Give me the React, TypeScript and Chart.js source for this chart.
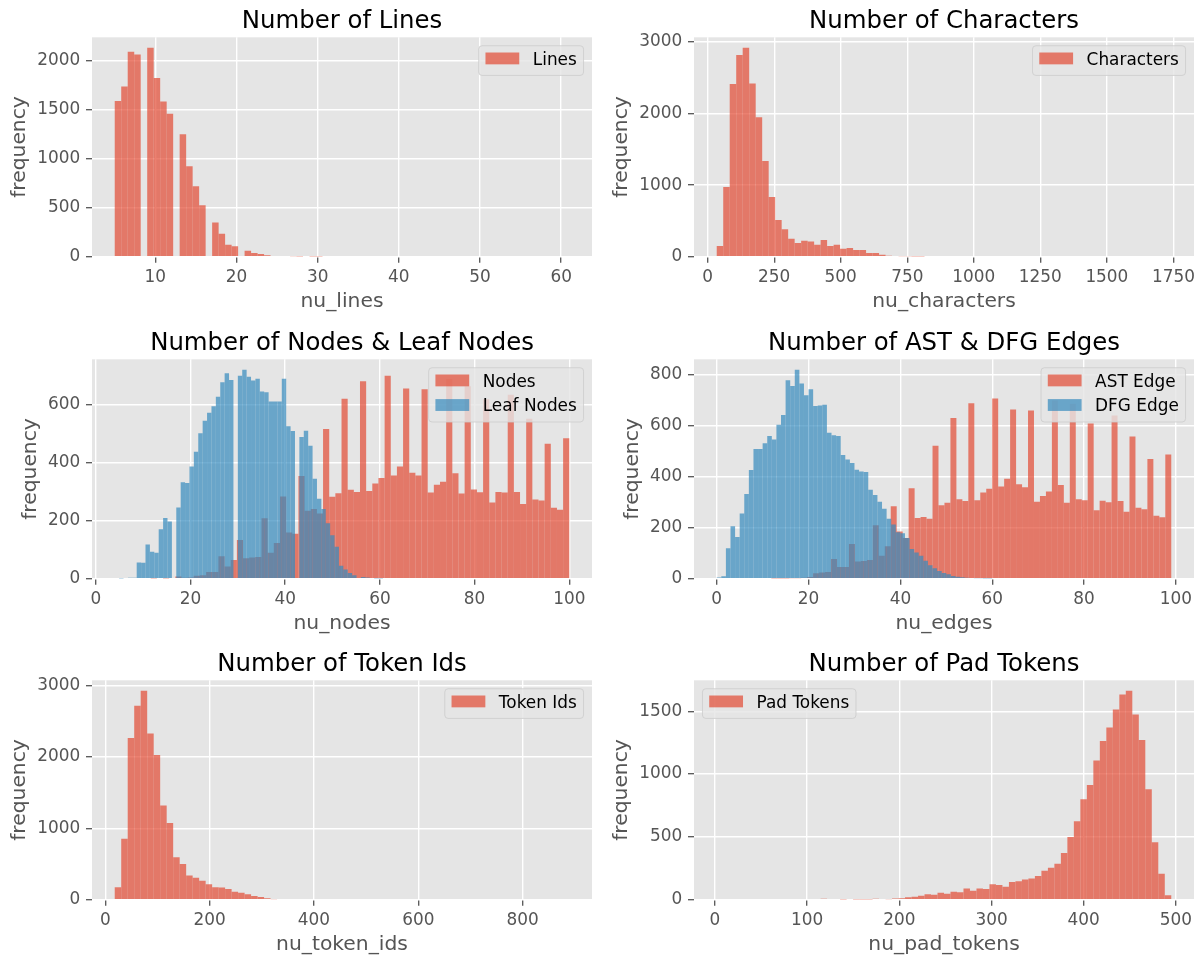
import React, { useEffect, useRef } from 'react';
import { Chart, registerables } from 'chart.js';

Chart.register(...registerables);

const FONT = "'DejaVu Sans', 'Liberation Sans', sans-serif";
Chart.defaults.font.family = FONT;

const RED = 'rgba(226, 74, 51, 0.7)';
const BLUE = 'rgba(52, 138, 189, 0.7)';
const PLOT_BG = '#E5E5E5';
const TEXT_GREY = '#555555';

// ---------------- data (each histogram: 70 equal-width bins) ----------------
const LINES_BIN_START = 5;
const LINES_BIN_WIDTH = 0.8;
const linesCounts = [
  1590, 1740, 2095, 2065, 0, 2135, 1825, 1585, 1460, 0,
  1250, 925, 720, 525, 0, 350, 235, 122, 108, 0,
  60, 38, 27, 14, 0, 8, 6, 4, 3, 0,
  2, 2, 0, 0, 0, 0, 0, 0, 0, 0,
  0, 0, 0, 0, 0, 0, 0, 0, 0, 0,
  0, 0, 0, 0, 0, 0, 0, 0, 0, 0,
  0, 0, 0, 0, 0, 0, 0, 0, 0, 0,
];

const CHARS_BIN_START = 34;
const CHARS_BIN_WIDTH = 24.4;
const charactersCounts = [
  149, 974, 2413, 2818, 2920, 2422, 1947, 1337, 834, 512,
  382, 252, 191, 224, 214, 168, 233, 149, 168, 112,
  121, 93, 93, 51, 51, 28, 12, 9, 7, 5,
  4, 3, 0, 0, 0, 0, 0, 0, 0, 0,
  0, 0, 0, 0, 0, 0, 0, 0, 0, 0,
  0, 0, 0, 0, 0, 0, 0, 0, 0, 0,
  0, 0, 0, 0, 0, 0, 0, 0, 0, 0,
];

const NODES_BIN_START = 9;
const NODES_BIN_WIDTH = 1.3;
const nodesCounts = [
  0, 0, 1, 2, 1, 2, 8, 3, 4, 10,
  12, 23, 23, 78, 42, 65, 134, 71, 73, 75,
  209, 90, 123, 284, 160, 155, 355, 235, 241, 225,
  517, 283, 295, 622, 307, 300, 682, 303, 329, 348,
  701, 357, 388, 657, 366, 357, 655, 298, 325, 335,
  690, 364, 294, 665, 308, 299, 620, 263, 300, 298,
  636, 300, 258, 553, 274, 270, 466, 245, 238, 485,
];

const LEAF_BIN_START = 4;
const LEAF_BIN_WIDTH = 65 / 70;
const leafNodesCounts = [
  0, 1, 2, 3, 3, 56, 55, 118, 93, 90,
  171, 210, 198, 0, 246, 333, 331, 388, 439, 503,
  546, 573, 596, 629, 679, 710, 687, 0, 701, 722,
  698, 685, 691, 647, 644, 612, 612, 612, 691, 527,
  510, 0, 490, 511, 459, 345, 276, 241, 192, 150,
  110, 45, 32, 20, 12, 0, 6, 4, 2, 1,
  1, 0, 0, 0, 0, 0, 0, 0, 0, 0,
];

const AST_BIN_START = 8;
const AST_BIN_WIDTH = 1.3;
const astEdgeCounts = [
  0, 0, 0, 1, 1, 1, 2, 2, 4, 7,
  21, 24, 26, 77, 46, 46, 136, 67, 69, 73,
  209, 90, 127, 284, 185, 159, 354, 238, 242, 235,
  520, 288, 297, 629, 311, 304, 687, 307, 337, 352,
  705, 361, 391, 662, 370, 358, 658, 301, 324, 341,
  698, 367, 297, 685, 311, 307, 608, 268, 305, 299,
  639, 304, 262, 557, 278, 272, 469, 246, 241, 486,
];

const DFG_BIN_START = 0;
const DFG_BIN_WIDTH = 1;
const dfgEdgeCounts = [
  5, 10, 119, 205, 163, 255, 332, 426, 508, 508,
  530, 559, 545, 603, 641, 777, 754, 818, 764, 718,
  742, 676, 678, 681, 571, 562, 559, 484, 467, 453,
  427, 420, 418, 348, 328, 301, 274, 235, 212, 182,
  178, 159, 116, 103, 90, 70, 53, 41, 30, 22,
  17, 11, 8, 6, 4, 3, 2, 2, 1, 1,
  0, 0, 0, 0, 0, 0, 0, 0, 0, 0,
];

const TOKEN_BIN_START = 18;
const TOKEN_BIN_WIDTH = 12.45;
const tokenIdsCounts = [
  173, 853, 2269, 2719, 2930, 2330, 2030, 1322, 1074, 595,
  502, 338, 309, 267, 216, 173, 170, 150, 113, 98,
  75, 52, 38, 20, 5, 10, 0, 0, 0, 0,
  0, 0, 0, 0, 0, 0, 0, 0, 0, 0,
  0, 0, 0, 0, 0, 0, 0, 0, 0, 0,
  0, 0, 0, 0, 0, 0, 0, 0, 0, 0,
  0, 0, 0, 0, 0, 0, 0, 0, 0, 0,
];

const PAD_BIN_START = 2.1;
const PAD_BIN_WIDTH = 7.04;
const padTokensCounts = [
  0, 0, 0, 0, 0, 0, 0, 0, 0, 0,
  0, 0, 0, 0, 0, 0, 8, 6, 0, 2,
  0, 2, 2, 2, 7, 6, 3, 10, 12, 20,
  24, 32, 44, 40, 56, 48, 64, 59, 90, 72,
  90, 85, 122, 117, 104, 141, 146, 160, 168, 189,
  231, 255, 287, 372, 500, 625, 800, 912, 1107, 1263,
  1370, 1513, 1633, 1663, 1474, 1271, 880, 458, 207, 35,
];

// ---------------- panel definitions ----------------
type Hist = { label: string; color: string; start: number; width: number; counts: number[] };
type PanelSpec = {
  title: string;
  xLabel: string;
  xStep: number;
  yStep: number;
  legend: 'left' | 'right';
  hists: Hist[];
};

const PANELS: PanelSpec[] = [
  {
    title: 'Number of Lines', xLabel: 'nu_lines', xStep: 10, yStep: 500, legend: 'right',
    hists: [{ label: 'Lines', color: RED, start: LINES_BIN_START, width: LINES_BIN_WIDTH, counts: linesCounts }],
  },
  {
    title: 'Number of Characters', xLabel: 'nu_characters', xStep: 250, yStep: 1000, legend: 'right',
    hists: [{ label: 'Characters', color: RED, start: CHARS_BIN_START, width: CHARS_BIN_WIDTH, counts: charactersCounts }],
  },
  {
    title: 'Number of Nodes & Leaf Nodes', xLabel: 'nu_nodes', xStep: 20, yStep: 200, legend: 'right',
    hists: [
      { label: 'Nodes', color: RED, start: NODES_BIN_START, width: NODES_BIN_WIDTH, counts: nodesCounts },
      { label: 'Leaf Nodes', color: BLUE, start: LEAF_BIN_START, width: LEAF_BIN_WIDTH, counts: leafNodesCounts },
    ],
  },
  {
    title: 'Number of AST & DFG Edges', xLabel: 'nu_edges', xStep: 20, yStep: 200, legend: 'right',
    hists: [
      { label: 'AST Edge', color: RED, start: AST_BIN_START, width: AST_BIN_WIDTH, counts: astEdgeCounts },
      { label: 'DFG Edge', color: BLUE, start: DFG_BIN_START, width: DFG_BIN_WIDTH, counts: dfgEdgeCounts },
    ],
  },
  {
    title: 'Number of Token Ids', xLabel: 'nu_token_ids', xStep: 200, yStep: 1000, legend: 'right',
    hists: [{ label: 'Token Ids', color: RED, start: TOKEN_BIN_START, width: TOKEN_BIN_WIDTH, counts: tokenIdsCounts }],
  },
  {
    title: 'Number of Pad Tokens', xLabel: 'nu_pad_tokens', xStep: 100, yStep: 500, legend: 'left',
    hists: [{ label: 'Pad Tokens', color: RED, start: PAD_BIN_START, width: PAD_BIN_WIDTH, counts: padTokensCounts }],
  },
];

// ---------------- layout ----------------
const FIG_W = 1203;
const FIG_H = 958;
const COL_X = [0, 601];
const COL_W = [601, 602];
const Y_AXIS_W = [92, 93];
const PLOT_W = 500;
const ROW_Y = [0, 322, 643];
const ROW_H = [322, 321, 315];
const PLOT_TOP = 37.3;
const PLOT_BOTTOM = 256.7;

const TICK_FS = 16.9;
const LABEL_FS = 20.3;
const TITLE_FS = 24.4;
const LEGEND_FS = 16.9;
const TICK_LEN = 6;
const TICK_PAD_X = 4.5;
const TICK_PAD_Y = 5.8;
const X_TITLE_MID = 301.5;
const TITLE_PAD_TOP = 6.8;

// ---------------- plugins ----------------
const plotBgPlugin = {
  id: 'plotBg',
  beforeDraw(chart: any) {
    const { ctx, chartArea: a } = chart;
    if (!a) return;
    ctx.save();
    ctx.fillStyle = PLOT_BG;
    ctx.fillRect(a.left, a.top, a.right - a.left, a.bottom - a.top);
    ctx.restore();
  },
};

const centerTitlePlugin = {
  id: 'centerTitle',
  afterLayout(chart: any) {
    const tb = chart.titleBlock;
    const a = chart.chartArea;
    if (tb && a) {
      tb.left = a.left;
      tb.right = a.right;
      tb.width = a.right - a.left;
    }
  },
};

const insideLegendPlugin = {
  id: 'insideLegend',
  afterDatasetsDraw(chart: any, _args: any, opts: any) {
    if (!opts || !opts.items || !opts.items.length) return;
    const { ctx, chartArea: a } = chart;
    const fs = LEGEND_FS;
    const pad = 0.4 * fs;
    const handleW = 2 * fs;
    const handleH = 0.7 * fs;
    const textPad = 0.8 * fs;
    const rowH = 0.955 * fs;
    const rowGap = 0.5 * fs;
    const axPad = 0.5 * fs;
    ctx.save();
    ctx.font = `${fs}px ${FONT}`;
    const items = opts.items as { label: string; color: string }[];
    const textW = Math.max(...items.map((it) => ctx.measureText(it.label).width));
    const boxW = 2 * pad + handleW + textPad + textW;
    const boxH = 2 * pad + items.length * rowH + (items.length - 1) * rowGap;
    const x0 = opts.corner === 'left' ? a.left + axPad : a.right - axPad - boxW;
    const y0 = a.top + axPad;
    const r = 0.2 * fs;
    ctx.beginPath();
    ctx.moveTo(x0 + r, y0);
    ctx.lineTo(x0 + boxW - r, y0);
    ctx.arcTo(x0 + boxW, y0, x0 + boxW, y0 + r, r);
    ctx.lineTo(x0 + boxW, y0 + boxH - r);
    ctx.arcTo(x0 + boxW, y0 + boxH, x0 + boxW - r, y0 + boxH, r);
    ctx.lineTo(x0 + r, y0 + boxH);
    ctx.arcTo(x0, y0 + boxH, x0, y0 + boxH - r, r);
    ctx.lineTo(x0, y0 + r);
    ctx.arcTo(x0, y0, x0 + r, y0, r);
    ctx.closePath();
    ctx.fillStyle = 'rgba(229, 229, 229, 0.8)';
    ctx.fill();
    ctx.strokeStyle = 'rgba(204, 204, 204, 0.8)';
    ctx.lineWidth = 1;
    ctx.stroke();
    items.forEach((it, i) => {
      const rowTop = y0 + pad + i * (rowH + rowGap);
      ctx.fillStyle = it.color;
      ctx.fillRect(x0 + pad, rowTop, handleW, handleH);
      ctx.fillStyle = '#000000';
      ctx.textAlign = 'left';
      ctx.textBaseline = 'middle';
      ctx.fillText(it.label, x0 + pad + handleW + textPad, rowTop + 0.46 * fs);
    });
    ctx.restore();
  },
};

// ticks at exact multiples of the step inside the axis range
const stepTicks = (step: number) => (scale: any) => {
  const out: { value: number }[] = [];
  const first = Math.ceil(scale.min / step - 1e-9) * step;
  for (let v = first; v <= scale.max + 1e-9; v += step) {
    out.push({ value: Math.round(v * 1e6) / 1e6 });
  }
  scale.ticks = out;
};

// ---------------- chart config ----------------
function buildConfig(spec: PanelSpec, col: number, row: number) {
  const H = ROW_H[row];
  const W = COL_W[col];
  const yAxisW = Y_AXIS_W[col];

  const lo = Math.min(...spec.hists.map((h) => h.start));
  const hi = Math.max(...spec.hists.map((h) => h.start + h.width * h.counts.length));
  const margin = 0.05 * (hi - lo);
  const xMin = lo - margin;
  const xMax = hi + margin;
  const yMax = 1.05 * Math.max(...spec.hists.map((h) => Math.max(...h.counts)));

  const topTick = Math.floor(yMax / spec.yStep) * spec.yStep;
  const tickLabelW = String(topTick).length * 0.636 * TICK_FS;
  const labelLH = LABEL_FS * 1.2;
  const yTitleMid = yAxisW - TICK_LEN - TICK_PAD_Y - tickLabelW - 6.76 - 0.536 * LABEL_FS;
  const yTitlePadTop = Math.max(0, yTitleMid - labelLH / 2);
  const xTitlePadBottom = Math.max(0, H - X_TITLE_MID - labelLH / 2);
  const titleLH = TITLE_FS * 1.2;
  const titlePadBottom = PLOT_TOP - titleLH - TITLE_PAD_TOP;

  const grid = {
    color: '#FFFFFF',
    lineWidth: 1.4,
    drawTicks: true,
    tickLength: TICK_LEN,
    tickColor: TEXT_GREY,
    tickWidth: 1.3,
    offset: false,
  };

  const datasets = spec.hists.map((h, i) => ({
    type: 'bar',
    label: h.label,
    data: h.counts.map((c, j) => ({ x: h.start + h.width * (j + 0.5), y: c })),
    backgroundColor: h.color,
    borderWidth: 0,
    barPercentage: 1,
    categoryPercentage: 1,
    grouped: false,
    inflateAmount: 0,
    xAxisID: i === 0 ? 'x' : `x${i + 1}`,
    order: spec.hists.length - i,
  }));

  const scales: any = {
    x: {
      type: 'linear',
      min: xMin,
      max: xMax,
      offset: false,
      grid,
      border: { display: false },
      afterBuildTicks: stepTicks(spec.xStep),
      ticks: {
        color: TEXT_GREY,
        font: { family: FONT, size: TICK_FS },
        padding: TICK_PAD_X,
        maxRotation: 0,
        autoSkip: false,
        callback: (v: any) => String(v),
      },
      title: {
        display: true,
        text: spec.xLabel,
        color: TEXT_GREY,
        font: { family: FONT, size: LABEL_FS, lineHeight: 1.2 },
        padding: { top: 0, bottom: xTitlePadBottom },
      },
      afterFit: (s: any) => {
        s.height = H - PLOT_BOTTOM;
      },
    },
    y: {
      type: 'linear',
      min: 0,
      max: yMax,
      grid,
      border: { display: false },
      afterBuildTicks: stepTicks(spec.yStep),
      ticks: {
        color: TEXT_GREY,
        font: { family: FONT, size: TICK_FS },
        padding: TICK_PAD_Y,
        autoSkip: false,
        callback: (v: any) => String(v),
      },
      title: {
        display: true,
        text: 'frequency',
        color: TEXT_GREY,
        font: { family: FONT, size: LABEL_FS, lineHeight: 1.2 },
        padding: { top: yTitlePadTop, bottom: 0 },
      },
      afterFit: (s: any) => {
        s.width = yAxisW;
      },
    },
  };
  spec.hists.slice(1).forEach((_h, k) => {
    scales[`x${k + 2}`] = { type: 'linear', display: false, min: xMin, max: xMax, offset: false };
  });

  return {
    type: 'bar',
    data: { datasets },
    options: {
      responsive: false,
      maintainAspectRatio: false,
      animation: false,
      devicePixelRatio: 1,
      events: [],
      layout: {
        autoPadding: false,
        padding: { left: 0, right: W - yAxisW - PLOT_W, top: 0, bottom: 0 },
      },
      plugins: {
        legend: { display: false },
        tooltip: { enabled: false },
        title: {
          display: true,
          text: spec.title,
          color: '#000000',
          align: 'center',
          font: { family: FONT, size: TITLE_FS, weight: 'normal', lineHeight: 1.2 },
          padding: { top: TITLE_PAD_TOP, bottom: titlePadBottom },
        },
        insideLegend: {
          corner: spec.legend,
          items: spec.hists.map((h) => ({ label: h.label, color: h.color })),
        },
      },
      scales,
    },
    plugins: [plotBgPlugin, centerTitlePlugin, insideLegendPlugin],
  };
}

function Panel({ spec, col, row }: { spec: PanelSpec; col: number; row: number }) {
  const ref = useRef<HTMLCanvasElement | null>(null);
  useEffect(() => {
    if (!ref.current) return;
    const chart = new Chart(ref.current, buildConfig(spec, col, row) as any);
    return () => chart.destroy();
  }, [spec, col, row]);
  return (
    <canvas
      ref={ref}
      width={COL_W[col]}
      height={ROW_H[row]}
      style={{
        position: 'absolute',
        left: COL_X[col],
        top: ROW_Y[row],
        width: COL_W[col],
        height: ROW_H[row],
        display: 'block',
      }}
    />
  );
}

export default function App() {
  return (
    <div
      style={{
        position: 'absolute',
        left: 0,
        top: 0,
        width: FIG_W,
        height: FIG_H,
        overflow: 'hidden',
        background: '#ffffff',
      }}
    >
      {PANELS.map((p, i) => (
        <Panel key={i} spec={p} col={i % 2} row={Math.floor(i / 2)} />
      ))}
    </div>
  );
}
